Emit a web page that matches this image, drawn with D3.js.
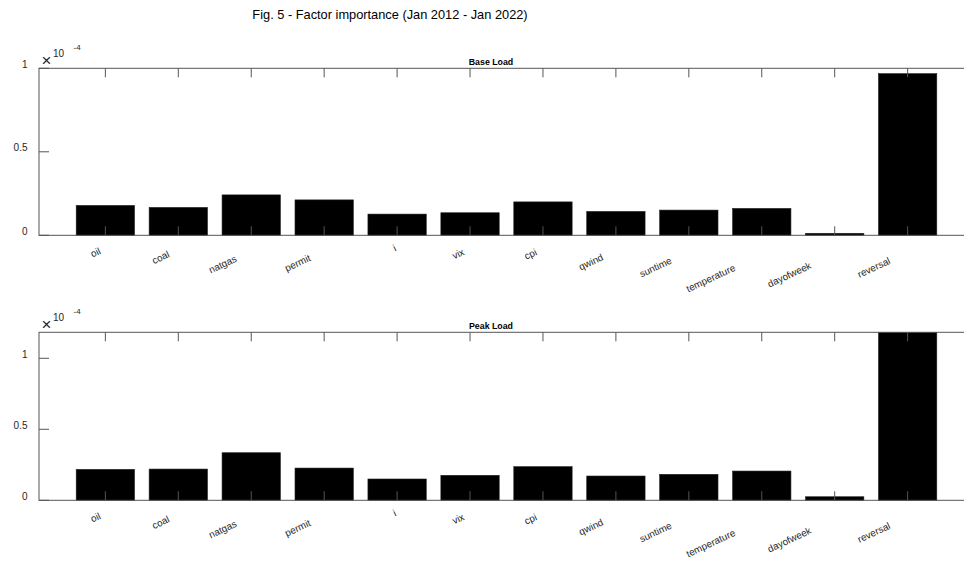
<!DOCTYPE html>
<html>
<head>
<meta charset="utf-8">
<script src="https://cdn.jsdelivr.net/npm/d3@7"></script>
<style>
  html, body { margin: 0; padding: 0; background: #fff; }
  svg { display: block; font-family: "Liberation Sans", Arial, sans-serif; }
</style>
</head>
<body>
<svg id="chart" width="964" height="561"></svg>
<script>
// ---- data ----
const categories = ["oil", "coal", "natgas", "permit", "i", "vix", "cpi", "qwind", "suntime", "temperature", "dayofweek", "reversal"];
const baseLoad = [0.179, 0.167, 0.242, 0.212, 0.127, 0.135, 0.200, 0.143, 0.151, 0.161, 0.012, 0.968];
const peakLoad = [0.218, 0.220, 0.335, 0.227, 0.150, 0.176, 0.237, 0.171, 0.183, 0.206, 0.025, 1.183];
const baseTicks = [0, 0.5, 1];
const peakTicks = [0, 0.5, 1];
const baseYMax = 1;
const peakYMax = 1.183;
const figTitle = "Fig. 5 - Factor importance (Jan 2012 - Jan 2022)";
const panelTitles = ["Base Load", "Peak Load"];
const multiplier = "10";
const exponent = "-4";

// ---- layout ----
const svg = d3.select("#chart");
const W = 964, H = 561;
svg.append("rect").attr("width", W).attr("height", H).attr("fill", "#fff");

const x = d3.scaleLinear().domain([0.09, 12.91]).range([39, 974]);
const axisColor = "#555";
const textColor = "#262626";

svg.append("text")
  .attr("x", 390).attr("y", 19)
  .attr("text-anchor", "middle")
  .attr("font-size", 12.8).attr("fill", "#000")
  .text(figTitle);

const panels = [
  { title: panelTitles[0], values: baseLoad, ticks: baseTicks, ymax: baseYMax, top: 68.3, bottom: 235.3 },
  { title: panelTitles[1], values: peakLoad, ticks: peakTicks, ymax: peakYMax, top: 332.3, bottom: 500.3 }
];

panels.forEach(p => {
  const g = svg.append("g");
  const y = d3.scaleLinear().domain([0, p.ymax]).range([p.bottom, p.top]);
  const x0 = x.range()[0], x1 = x.range()[1];

  // bars
  g.selectAll("rect.bar").data(p.values).join("rect")
    .attr("class", "bar")
    .attr("x", (d, i) => x(i + 1 - 0.4))
    .attr("width", (d, i) => x(i + 1 + 0.4) - x(i + 1 - 0.4))
    .attr("y", d => y(Math.min(d, p.ymax)))
    .attr("height", d => y(0) - y(Math.min(d, p.ymax)))
    .attr("fill", "#000").attr("stroke", "#222").attr("stroke-width", 0.6);

  // x ticks (top & bottom, inward)
  const idx = d3.range(1, categories.length + 1);
  g.selectAll("line.xtb").data(idx).join("line")
    .attr("x1", d => x(d)).attr("x2", d => x(d))
    .attr("y1", p.bottom).attr("y2", p.bottom - 9)
    .attr("stroke", axisColor).attr("stroke-width", 1);
  g.selectAll("line.xtt").data(idx).join("line")
    .attr("x1", d => x(d)).attr("x2", d => x(d))
    .attr("y1", p.top).attr("y2", p.top + 9)
    .attr("stroke", axisColor).attr("stroke-width", 1);

  // y ticks left & right
  g.selectAll("line.ytl").data(p.ticks).join("line")
    .attr("x1", x0).attr("x2", x0 + 10)
    .attr("y1", d => y(d)).attr("y2", d => y(d))
    .attr("stroke", axisColor).attr("stroke-width", 1);
  g.selectAll("line.ytr").data(p.ticks).join("line")
    .attr("x1", x1).attr("x2", x1 - 10)
    .attr("y1", d => y(d)).attr("y2", d => y(d))
    .attr("stroke", axisColor).attr("stroke-width", 1);

  // box
  g.append("rect")
    .attr("x", x0).attr("y", p.top)
    .attr("width", x1 - x0).attr("height", p.bottom - p.top)
    .attr("fill", "none").attr("stroke", axisColor).attr("stroke-width", 1);

  // y tick labels
  g.selectAll("text.yl").data(p.ticks).join("text")
    .attr("x", 27.5).attr("y", d => y(d) - 0.5)
    .attr("text-anchor", "end")
    .attr("font-size", 10).attr("fill", textColor)
    .text(d => d3.format("~g")(d));

  // multiplier
  const m = g.append("g").attr("fill", textColor);
  m.append("text").attr("x", 46.5).attr("y", p.top - 2.5).attr("text-anchor", "middle")
    .attr("font-size", 17).text("\u00d7");
  m.append("text").attr("x", 53).attr("y", p.top - 11).attr("font-size", 10).text(multiplier);
  m.append("text").attr("x", 73.5).attr("y", p.top - 18.5).attr("font-size", 8).text(exponent);

  // panel title
  g.append("text")
    .attr("x", 491).attr("y", p.top - 3.5)
    .attr("text-anchor", "middle")
    .attr("font-size", 8.8).attr("font-weight", "bold").attr("fill", "#000")
    .text(p.title);

  // x tick labels (rotated)
  const labelBase = p.bottom + 12;
  g.selectAll("text.xl").data(categories).join("text")
    .attr("font-size", 9.8).attr("fill", textColor)
    .attr("text-anchor", "middle")
    .attr("dominant-baseline", "middle")
    .text(d => d)
    .each(function (d, i) {
      const L = this.getComputedTextLength();
      const cx = x(i + 1) - 0.96 * L;
      const cy = labelBase + 0.6 * L;
      d3.select(this).attr("transform", `translate(${cx},${cy}) rotate(-25)`);
    });
});
</script>
</body>
</html>
